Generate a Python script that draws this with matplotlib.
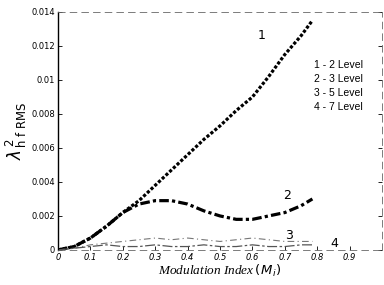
import matplotlib
matplotlib.use("Agg")
import matplotlib.pyplot as plt

# modulation index samples
m = [0, 0.05, 0.1, 0.15, 0.2, 0.25, 0.3, 0.35, 0.4, 0.45, 0.5, 0.55, 0.6, 0.65, 0.7, 0.75, 0.785]

lev2 = [0, 0.0002, 0.0007, 0.0014, 0.0022, 0.0029, 0.0038, 0.0047, 0.0056, 0.0065,
        0.0073, 0.0082, 0.0090, 0.0102, 0.0115, 0.0126, 0.0135]
lev3 = [0, 0.0002, 0.0007, 0.0014, 0.0022, 0.0027, 0.0029, 0.0029, 0.0027, 0.0023,
        0.0020, 0.0018, 0.0018, 0.0020, 0.0022, 0.0026, 0.0030]
lev5 = [0, 0.0001, 0.0003, 0.0004, 0.0005, 0.0006, 0.0007, 0.0006, 0.0007, 0.0006,
        0.0005, 0.0006, 0.0007, 0.0006, 0.0005, 0.0005, 0.0005]
lev7 = [0, 0.0001, 0.0002, 0.0003, 0.0002, 0.0002, 0.0003, 0.0002, 0.0002, 0.0003,
        0.0002, 0.0002, 0.0003, 0.0002, 0.0002, 0.0003, 0.0003]

legend_lines = ["1 - 2 Level", "2 - 3 Level", "3 - 5 Level", "4 - 7 Level"]
xticks = [0, 0.1, 0.2, 0.3, 0.4, 0.5, 0.6, 0.7, 0.8, 0.9]
yticks = [0, 0.002, 0.004, 0.006, 0.008, 0.01, 0.012, 0.014]
ytick_labels = ["0", "0.002", "0.004", "0.006", "0.008", "0.01", "0.012", "0.014"]

fig = plt.figure(figsize=(3.84, 2.85), dpi=100)
ax = fig.add_axes([0.151, 0.123, 0.844, 0.835])

ax.plot(m, lev2, color="black", lw=2.3, linestyle=(0, (1, 0.6)))
ax.plot(m, lev3, color="black", lw=2.3, linestyle=(0, (3, 1, 1, 1)))
ax.plot(m, lev5, color="#777777", lw=0.8, linestyle=(0, (6, 3, 1, 3)))
ax.plot(m, lev7, color="#555555", lw=0.9, linestyle=(0, (8, 2, 2, 2)))

ax.set_xlim(0, 1.0)
ax.set_ylim(0, 0.014)
ax.set_xticks(xticks)
ax.set_xticklabels([("0" if t == 0 else f"{t:.1f}") for t in xticks],
                   fontsize=6, style="italic")
ax.set_yticks(yticks)
ax.set_yticklabels(ytick_labels, fontsize=6)
ax.tick_params(direction="in", length=3, width=0.6, pad=2, top=False, right=True)

ax.spines["left"].set_linewidth(1.0)
for side in ["top", "right", "bottom"]:
    ax.spines[side].set_linewidth(0.6)
    ax.spines[side].set_linestyle((0, (8, 6)))
    ax.spines[side].set_color("#666666")

ax.text(0.615, 0.0124, "1", fontsize=9)
ax.text(0.695, 0.0030, "2", fontsize=9)
ax.text(0.70, 0.00065, "3", fontsize=9)
ax.text(0.84, 0.00015, "4", fontsize=9)

for i, s in enumerate(legend_lines):
    ax.text(0.79, 0.0107 - i * 0.00083, s, fontsize=7.5, family="Liberation Sans")

ax.set_xlabel(r"Modulation Index$\,(M_{\,i})$", fontsize=9.5, style="italic",
              family="Liberation Serif", labelpad=1)
ax.set_ylabel(r"$\lambda^{\,2}_{\,\mathrm{h\ f\ RMS}}$", fontsize=12, labelpad=2)

fig.savefig("out.png", dpi=100)
